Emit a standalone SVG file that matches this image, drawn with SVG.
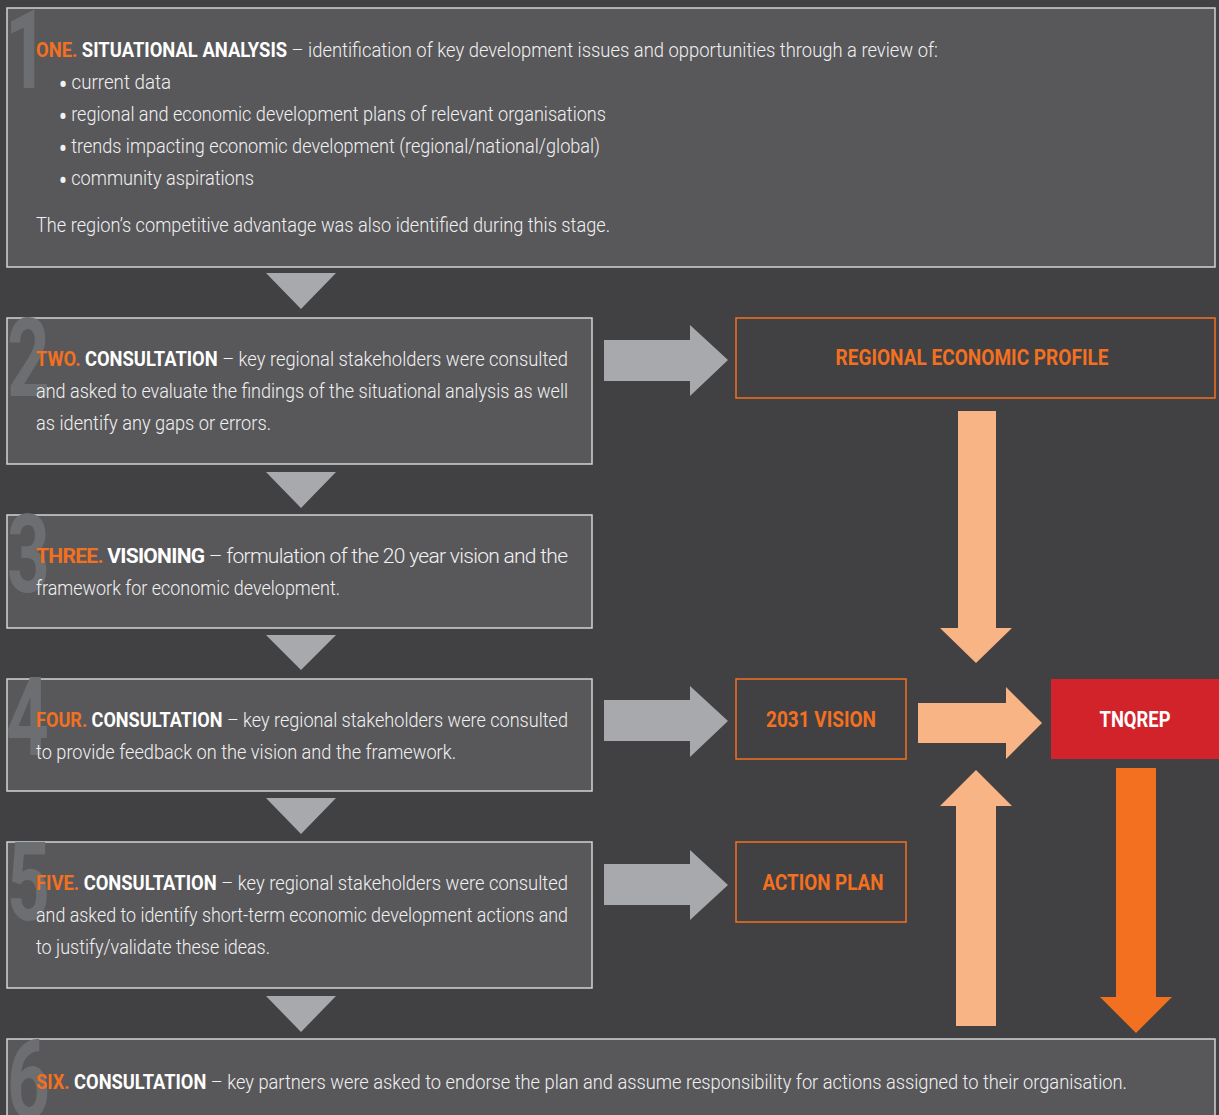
<svg xmlns="http://www.w3.org/2000/svg" width="1219" height="1115" viewBox="0 0 1219 1115">
<style>
.bg{fill:#414042}
.box{fill:#58585a;stroke:#d1d3d4;stroke-width:1.5}
.num{font-family:Roboto,"DejaVu Sans Condensed",sans-serif;font-weight:700;font-size:110px;fill:#6d6e71}
.t{font-family:Roboto,"DejaVu Sans Condensed",sans-serif;font-weight:300;font-size:21px;fill:#f1f1f2}
.o{fill:#f37021;font-weight:700}
.b{fill:#ffffff;font-weight:700}
.bu{font-size:25px;font-weight:700}
.lbl{fill:none;stroke:#f37021;stroke-width:1.5}
.lt{font-family:Roboto,"DejaVu Sans Condensed",sans-serif;font-size:22px;font-weight:700;fill:#f37021;text-anchor:middle}
.gray{fill:#a7a9ac}
.peach{fill:#f9b486}
.orange{fill:#f37021}
</style>
<defs>
  <clipPath id="c6"><rect x="7" y="1039" width="1208" height="90"/></clipPath>
</defs>
<rect class="bg" x="0" y="0" width="1219" height="1115"/>

<g id="connectors">
  <polygon class="gray" points="266,273 336,273 301,309"/>
  <polygon class="gray" points="266,472 336,472 301,508"/>
  <polygon class="gray" points="266,635 336,635 301,670"/>
  <polygon class="gray" points="266,798 336,798 301,834"/>
  <polygon class="gray" points="266,996 336,996 301,1032"/>
  <polygon class="gray" points="604,340 690,340 690,325 728,360 690,396 690,381 604,381"/>
  <polygon class="gray" points="604,700 690,700 690,686 728,721 690,757 690,741 604,741"/>
  <polygon class="gray" points="604,864 690,864 690,850 728,885 690,920 690,905 604,905"/>
  <polygon class="peach" points="958,411 996,411 996,628 1012,628 976,663 940,628 958,628"/>
  <polygon class="peach" points="918,703 1006,703 1006,687 1042,723 1006,759 1006,743 918,743"/>
  <polygon class="peach" points="956,1026 996,1026 996,806 1012,806 976,770 940,806 956,806"/>
  <polygon class="orange" points="1116,768 1156,768 1156,997 1172,997 1136,1033 1100,997 1116,997"/>
</g>

<g id="step1">
  <rect class="box" x="7" y="8" width="1208" height="259"/>
  <text class="num" transform="translate(5,88) scale(0.68,1)">1</text>
  <text class="t" x="36" y="57" textLength="902" lengthAdjust="spacingAndGlyphs"><tspan class="o">ONE.</tspan> <tspan class="b">SITUATIONAL ANALYSIS</tspan> – identification of key development issues and opportunities through a review of:</text>
  <text class="t" x="59" y="89" textLength="112" lengthAdjust="spacingAndGlyphs"><tspan class="bu" dy="4">•</tspan><tspan dy="-4"> current data</tspan></text>
  <text class="t" x="59" y="121" textLength="547" lengthAdjust="spacingAndGlyphs"><tspan class="bu" dy="4">•</tspan><tspan dy="-4"> regional and economic development plans of relevant organisations</tspan></text>
  <text class="t" x="59" y="153" textLength="541" lengthAdjust="spacingAndGlyphs"><tspan class="bu" dy="4">•</tspan><tspan dy="-4"> trends impacting economic development (regional/national/global)</tspan></text>
  <text class="t" x="59" y="185" textLength="195" lengthAdjust="spacingAndGlyphs"><tspan class="bu" dy="4">•</tspan><tspan dy="-4"> community aspirations</tspan></text>
  <text class="t" x="36" y="232" textLength="574" lengthAdjust="spacingAndGlyphs">The region’s competitive advantage was also identified during this stage.</text>
</g>

<g id="step2">
  <rect class="box" x="7" y="318" width="585" height="146"/>
  <text class="num" transform="translate(7,396) scale(0.68,1)">2</text>
  <text class="t" x="36" y="366" textLength="532" lengthAdjust="spacingAndGlyphs"><tspan class="o">TWO.</tspan> <tspan class="b">CONSULTATION</tspan> – key regional stakeholders were consulted</text>
  <text class="t" x="36" y="398" textLength="532" lengthAdjust="spacingAndGlyphs">and asked to evaluate the findings of the situational analysis as well</text>
  <text class="t" x="36" y="430" textLength="235" lengthAdjust="spacingAndGlyphs">as identify any gaps or errors.</text>
</g>

<g id="step3">
  <rect class="box" x="7" y="515" width="585" height="113"/>
  <text class="num" transform="translate(7,592) scale(0.68,1)">3</text>
  <text class="t" x="36" y="563" textLength="532" lengthAdjust="spacing"><tspan class="o">THREE.</tspan> <tspan class="b">VISIONING</tspan> – formulation of the 20 year vision and the</text>
  <text class="t" x="36" y="595" textLength="304" lengthAdjust="spacingAndGlyphs">framework for economic development.</text>
</g>

<g id="step4">
  <rect class="box" x="7" y="679" width="585" height="112"/>
  <text class="num" transform="translate(6,755) scale(0.68,1)">4</text>
  <text class="t" x="36" y="727" textLength="532" lengthAdjust="spacingAndGlyphs"><tspan class="o">FOUR.</tspan> <tspan class="b">CONSULTATION</tspan> – key regional stakeholders were consulted</text>
  <text class="t" x="36" y="759" textLength="420" lengthAdjust="spacingAndGlyphs">to provide feedback on the vision and the framework.</text>
</g>

<g id="step5">
  <rect class="box" x="7" y="842" width="585" height="146"/>
  <text class="num" transform="translate(7,920) scale(0.68,1)">5</text>
  <text class="t" x="36" y="890" textLength="532" lengthAdjust="spacingAndGlyphs"><tspan class="o">FIVE.</tspan> <tspan class="b">CONSULTATION</tspan> – key regional stakeholders were consulted</text>
  <text class="t" x="36" y="922" textLength="532" lengthAdjust="spacingAndGlyphs">and asked to identify short-term economic development actions and</text>
  <text class="t" x="36" y="954" textLength="234" lengthAdjust="spacingAndGlyphs">to justify/validate these ideas.</text>
</g>

<g id="step6">
  <rect class="box" x="7" y="1039" width="1208" height="90"/>
  <g clip-path="url(#c6)">
    <text class="num" transform="translate(7,1118) scale(0.68,1)">6</text>
  </g>
  <text class="t" x="36" y="1089" textLength="1091" lengthAdjust="spacingAndGlyphs"><tspan class="o">SIX.</tspan> <tspan class="b">CONSULTATION</tspan> – key partners were asked to endorse the plan and assume responsibility for actions assigned to their organisation.</text>
</g>

<g id="regional-economic-profile">
  <rect class="lbl" x="736" y="318" width="479" height="80"/>
  <text class="lt" x="972" y="365" textLength="273" lengthAdjust="spacingAndGlyphs">REGIONAL ECONOMIC PROFILE</text>
</g>
<g id="vision-2031">
  <rect class="lbl" x="736" y="679" width="170" height="80"/>
  <text class="lt" x="821" y="727" textLength="110" lengthAdjust="spacingAndGlyphs">2031 VISION</text>
</g>
<g id="action-plan">
  <rect class="lbl" x="736" y="842" width="170" height="80"/>
  <text class="lt" x="823" y="890" textLength="121" lengthAdjust="spacingAndGlyphs">ACTION PLAN</text>
</g>
<g id="tnqrep">
  <rect x="1051" y="679" width="170" height="80" fill="#d2232a"/>
  <text class="lt" x="1135" y="727" style="fill:#ffffff" textLength="71" lengthAdjust="spacingAndGlyphs">TNQREP</text>
</g>
</svg>
